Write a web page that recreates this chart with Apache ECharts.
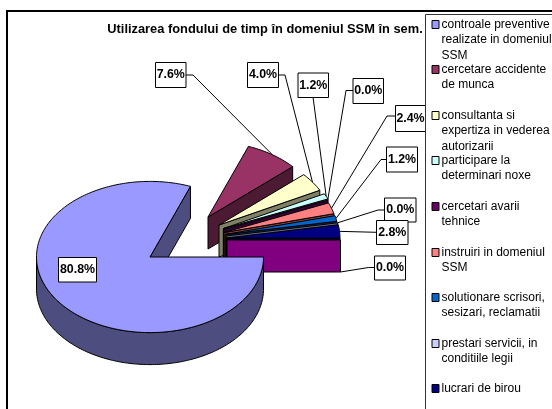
<!DOCTYPE html>
<html><head><meta charset="utf-8">
<style>html,body{margin:0;padding:0;background:#fff}#c{width:552px;height:409px}</style>
<script src="https://cdn.jsdelivr.net/npm/echarts@6/dist/echarts.min.js"></script>
</head><body><div id="c"></div>
<script>
const titleText = 'Utilizarea fondului de timp în domeniul SSM în sem.';
const categories = [
  'controale preventive\nrealizate in domeniul\nSSM',
  'cercetare accidente\nde munca',
  'consultanta si\nexpertiza in vederea\nautorizarii',
  'participare la\ndeterminari noxe',
  'cercetari avarii\ntehnice',
  'instruiri in domeniul\nSSM',
  'solutionare scrisori,\nsesizari, reclamatii',
  'prestari servicii, in\nconditiile legii',
  'lucrari de birou',
  ''
];
const values = [80.8, 7.6, 4.0, 1.2, 0.0, 2.4, 1.2, 0.0, 2.8, 0.0];
const topColors = ['#9999FF','#993366','#FFFFCC','#CCFFFF','#660066','#FF8080','#0066CC','#CCCCFF','#000080','#FF00FF'];
const wallColors = ['#4D4D80','#4D1A33','#808066','#668080','#330033','#804040','#003366','#666680','#000040','#800080'];

// layout only
const RX = 113.5, RY = 75.6, DEPTH = 32;
const pivots = [[150,257],[208,217],[219,225],[223.5,228.5],[223.3,229.6],[224,232.5],[225,234.5],[226,236],[226.5,238],[227,240]];
const drawOrder = [1,2,3,4,5,6,7,8,9,0];
const labelBoxes = [[58.5,257.5,38,24.5],[155.5,62.5,30.5,25],[247.5,62.5,31,25],[298,73,30.5,24.5],[353,78.5,30.5,25],[395.5,105.5,30,26],[386.5,147,31,25],[384.5,198,31.5,24],[376.5,220.5,31.5,24],[374.5,256,31,24]];
const labelElbows = [null,[193,75],[285,75],[313,97],[346,90.5],[387,116],[381,159.5],[378,210],[376.5,232.3],[368.5,267.5]];
const anchorDepth = [0,0,0,0,0,0,0,0,0,1];

const total = values.reduce((a,b)=>a+b,0);
const toRad = v => v / total * Math.PI * 2;
const spans = []; { let acc = 0; values.forEach(v => { const s = acc; acc += toRad(v); spans.push([s, acc]); }); }
const rim = (i, a, dy) => [pivots[i][0] + RX*Math.cos(a), pivots[i][1] + RY*Math.sin(a) + (dy||0)];
const arcPts = (i, a0, a1, dy) => { const n = Math.max(1, Math.ceil(Math.abs(a1-a0)/0.02)), out = [];
  for (let k=0;k<=n;k++) out.push(rim(i, a0+(a1-a0)*k/n, dy)); return out; };

function renderSlice(i){
  const [a0,a1] = spans[i], p = pivots[i], kids = [];
  const style = (fill) => ({fill, stroke:'#000', lineWidth:1, lineJoin:'round'});
  const e = rim(i,a1);
  kids.push({type:'polygon', shape:{points:[p, e, [e[0],e[1]+DEPTH], [p[0],p[1]+DEPTH]]}, style:style(wallColors[i])});
  const fa0 = Math.max(a0,0), fa1 = Math.min(a1,Math.PI);
  if (fa1 > fa0) {
    const up = arcPts(i,fa0,fa1,0), lo = arcPts(i,fa1,fa0,DEPTH);
    kids.push({type:'polygon', shape:{points:up.concat(lo)}, style:style(wallColors[i])});
  }
  if (a1 > a0) kids.push({type:'polygon', shape:{points:[p].concat(arcPts(i,a0,a1,0))}, style:style(topColors[i])});
  return {type:'group', children:kids};
}
function renderLeader(i){
  const el = labelElbows[i]; if(!el) return {type:'group',children:[]};
  const b = labelBoxes[i], mid = (spans[i][0]+spans[i][1])/2;
  const end = rim(i, mid, anchorDepth[i]*DEPTH);
  let start;
  if (el[1] > b[1]+b[3]-1) start = [el[0], b[1]+b[3]];
  else if (el[0] < b[0]) start = [b[0], el[1]];
  else start = [b[0]+b[2], el[1]];
  return {type:'polyline', shape:{points:[start, el, end]}, style:{stroke:'#000', lineWidth:1, fill:null}};
}
function renderLabel(i){
  const b = labelBoxes[i];
  return {type:'group', children:[
    {type:'rect', shape:{x:b[0],y:b[1],width:b[2],height:b[3]}, style:{fill:'#fff',stroke:'#000',lineWidth:1}},
    {type:'text', style:{x:b[0]+b[2]/2,y:b[1]+b[3]/2,text:values[i].toFixed(1)+'%',align:'center',verticalAlign:'middle',
      font:'bold 12.4px "Liberation Sans"',fill:'#000'}}
  ]};
}
const series = [];
values.forEach((v,i)=>series.push({type:'custom',name:'leader'+i,coordinateSystem:'none',z:1,silent:true,animation:false,clip:false,data:[[v]],renderItem:()=>renderLeader(i)}));
drawOrder.forEach((i,r)=>series.push({type:'custom',name:categories[i]||'slice'+i,coordinateSystem:'none',z:2+r,silent:true,animation:false,clip:false,data:[[values[i]]],renderItem:()=>renderSlice(i)}));
values.forEach((v,i)=>series.push({type:'custom',name:'label'+i,coordinateSystem:'none',z:20,silent:true,animation:false,clip:false,data:[[v]],renderItem:()=>renderLabel(i)}));

const LEG_X=431.5, LEG_TOP=19.5, LEG_STEP=45.6;
const legendEls = [{type:'rect',z:30,shape:{x:425.5,y:14.5,width:200,height:500},style:{fill:'#fff',stroke:'#333',lineWidth:1}}];
categories.forEach((c,i)=>{ if(!c) return;
  const y = Math.round(LEG_TOP + i*LEG_STEP);
  legendEls.push({type:'rect',z:31,shape:{x:LEG_X+.5,y:y+.5,width:7,height:8},style:{fill:topColors[i],stroke:'#000',lineWidth:1}});
  legendEls.push({type:'text',z:31,style:{x:441.5,y:y-3,text:c,font:'12px "Liberation Sans"',lineHeight:15.4,fill:'#000',align:'left',verticalAlign:'top'}});
});
const chart = echarts.init(document.getElementById('c'),null,{renderer:'canvas'});
chart.setOption({
  animation:false, backgroundColor:'#fff',
  title:{text:titleText,left:265,top:23,textAlign:'center',padding:0,textStyle:{fontFamily:'"Liberation Sans"',fontSize:12.85,fontWeight:'bold',color:'#000'}},
  graphic:[{type:'rect',z:0,silent:true,shape:{x:7,y:11,width:700,height:700},style:{fill:'#fff',stroke:'#000',lineWidth:2}}].concat(legendEls),
  series
});
</script></body></html>
